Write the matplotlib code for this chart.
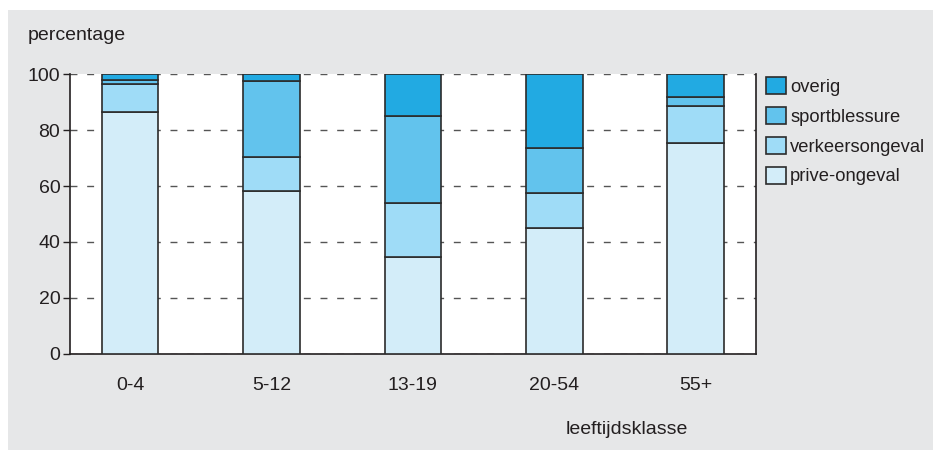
import numpy as np
import matplotlib
matplotlib.use("Agg")
import matplotlib.pyplot as plt
from matplotlib.patches import Rectangle, Patch

plt.rcParams["font.family"] = ["Liberation Sans", "DejaVu Sans"]

# leeftijdsklassen en aandelen per oorzaak (%)
klassen = ["0-4", "5-12", "13-19", "20-54", "55+"]
prive = [86.7, 58.2, 34.6, 44.9, 75.3]
verkeer = [9.7, 12.2, 19.3, 12.7, 13.5]
sport = [1.6, 27.3, 31.3, 15.9, 3.2]
overig = [2.0, 2.3, 14.8, 26.5, 8.0]

series = [
    ("prive-ongeval", prive, "#d3edf9"),
    ("verkeersongeval", verkeer, "#9fdcf7"),
    ("sportblessure", sport, "#62c3ed"),
    ("overig", overig, "#22aae2"),
]

FS = 14

fig = plt.figure(figsize=(9.33, 4.51), dpi=100)
fig.patch.set_facecolor("white")
fig.patches.append(Rectangle((8 / 933, 1 / 451), 1 - 8 / 933, 440 / 451,
                             transform=fig.transFigure, facecolor="#e6e7e8",
                             edgecolor="none", zorder=-10))

ax = fig.add_axes([0.075, 0.216, 0.735, 0.619])
ax.set_facecolor("white")

x = np.arange(len(klassen))
bottom = np.zeros(len(klassen))
for naam, waarden, kleur in series:
    ax.bar(x, waarden, width=0.4, bottom=bottom, color=kleur,
           edgecolor="#2b2b2b", linewidth=1.2, zorder=3)
    bottom += np.array(waarden)

ax.set_xlim(-0.424, 4.424)
ax.set_ylim(0, 100)
ax.set_yticks([0, 20, 40, 60, 80, 100])
ax.set_xticks(x)
ax.set_xticklabels(klassen)
ax.tick_params(axis="x", length=0, pad=17, labelsize=FS, colors="#231f20")
ax.tick_params(axis="y", length=5, width=1, pad=2, labelsize=FS,
               colors="#231f20")
ax.yaxis.grid(True, linestyle=(0, (5, 7)), color="#555555", linewidth=1,
              zorder=1)
ax.set_axisbelow(True)

for kant in ["left", "bottom", "right"]:
    ax.spines[kant].set_color("#231f20")
    ax.spines[kant].set_linewidth(1.2)
ax.spines["top"].set_visible(False)

fig.text(28 / 933, 1 - 35 / 451, "percentage", fontsize=FS,
         color="#231f20", va="center", ha="left")
fig.text(627 / 933, 1 - 430 / 451, "leeftijdsklasse", fontsize=FS,
         color="#231f20", va="center", ha="center")

handles = [Patch(facecolor=kleur, edgecolor="#2b2b2b", linewidth=1.2, label=naam)
           for naam, _, kleur in reversed(series)]
fig.legend(handles=handles, loc="upper left", bbox_to_anchor=(759 / 933, 1 - 70 / 451),
           frameon=False, fontsize=13.2, handlelength=1.05, handleheight=1.05,
           handletextpad=0.25, labelspacing=0.6, borderaxespad=0,
           labelcolor="#231f20")

fig.savefig("out.png", dpi=100)
